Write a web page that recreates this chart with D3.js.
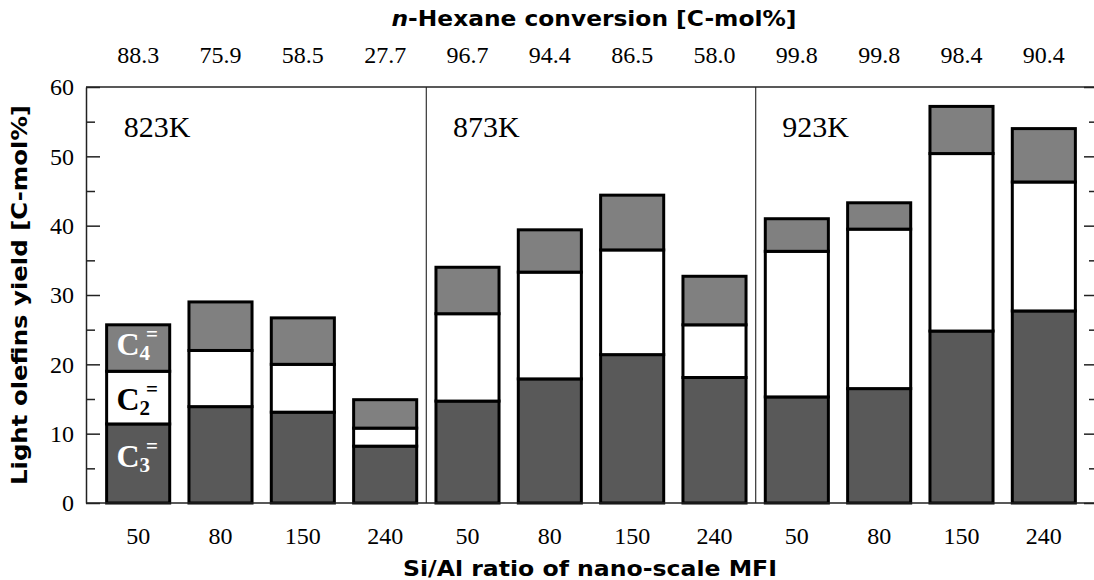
<!DOCTYPE html>
<html><head><meta charset="utf-8">
<script src="https://cdn.jsdelivr.net/npm/d3@7"></script>
<style>
html,body{margin:0;padding:0;background:#fff;}
svg{display:block;}
.serif{font-family:'Liberation Serif','Times New Roman',serif !important;}
.heavy{font-family:'DejaVu Sans',Arial,sans-serif;font-weight:bold;}
</style></head>
<body>
<svg id="chart" width="1094" height="580"></svg>
<script>
// ---- data ----
const categories = ["50","80","150","240","50","80","150","240","50","80","150","240"];
const temperatures = ["823K","873K","923K"];
const conversion = ["88.3","75.9","58.5","27.7","96.7","94.4","86.5","58.0","99.8","99.8","98.4","90.4"];
const c3 = [11.4,13.9,13.1,8.2,14.7,17.9,21.4,18.1,15.3,16.5,24.8,27.7];
const c2 = [7.6,8.1,6.9,2.6,12.6,15.4,15.1,7.6,21.0,23.0,25.6,18.6];
const c4 = [6.7,7.0,6.7,4.1,6.7,6.1,7.9,7.0,4.7,3.8,6.8,7.7];
const yTicks = [0,10,20,30,40,50,60];
const yMinorTicks = [5,15,25,35,45,55];

const rows = categories.map((c,i)=>({i, c3:c3[i], c2:c2[i], c4:c4[i]}));
const keys = ["c3","c2","c4"];
const fills = {c3:"#595959", c2:"#ffffff", c4:"#808080"};

const svg = d3.select("#chart");
const L = 86, R = 1098, T = 87, B = 503;
const x = d3.scaleBand().domain(d3.range(categories.length)).range([97,1085]).paddingInner(0.234).paddingOuter(0.117);
const y = d3.scaleLinear().domain([0,60]).range([B,T]);

// group separators
[4,8].forEach(k=>{
  const sx = (x(k-1)+x.bandwidth() + x(k))/2;
  svg.append("line").attr("x1",sx).attr("x2",sx).attr("y1",T).attr("y2",B)
    .attr("stroke","#444").attr("stroke-width",1.3);
});

// frame top
svg.append("line").attr("x1",L).attr("x2",R).attr("y1",T).attr("y2",T).attr("stroke","#222").attr("stroke-width",1.5);

// bars
const stacked = d3.stack().keys(keys)(rows);
svg.append("g").selectAll("g").data(stacked).join("g")
  .attr("fill",d=>fills[d.key])
  .selectAll("rect").data(d=>d).join("rect")
  .attr("x",d=>x(d.data.i)).attr("width",x.bandwidth())
  .attr("y",d=>y(d[1])).attr("height",d=>y(d[0])-y(d[1]))
  .attr("stroke","#000").attr("stroke-width",3);

function styleText(g, size){
  g.attr("font-family",null);
  g.selectAll("text").attr("class","serif").style("font-size",size+"px").attr("fill","#000");
}

// left axis
const gL = svg.append("g").attr("transform",`translate(${L},0)`)
  .call(d3.axisLeft(y).tickValues(yTicks).tickSizeInner(-14).tickSizeOuter(0).tickPadding(12).tickFormat(d3.format("d")));
gL.select(".domain").attr("stroke","#222").attr("stroke-width",1.5);
gL.selectAll(".tick line").attr("stroke","#222").attr("stroke-width",1.5);
styleText(gL, 24);
const gLm = svg.append("g").attr("transform",`translate(${L},0)`)
  .call(d3.axisLeft(y).tickValues(yMinorTicks).tickSizeInner(-9).tickSizeOuter(0).tickFormat(""));
gLm.select(".domain").remove();
gLm.selectAll(".tick line").attr("stroke","#222").attr("stroke-width",1.5);

// right axis (inward ticks)
const gR = svg.append("g").attr("transform",`translate(${R},0)`)
  .call(d3.axisRight(y).tickValues(yTicks).tickSizeInner(-14).tickSizeOuter(0).tickFormat(""));
gR.selectAll(".tick line").attr("stroke","#222").attr("stroke-width",1.5);
const gRm = svg.append("g").attr("transform",`translate(${R},0)`)
  .call(d3.axisRight(y).tickValues(yMinorTicks).tickSizeInner(-9).tickSizeOuter(0).tickFormat(""));
gRm.select(".domain").remove();
gRm.selectAll(".tick line").attr("stroke","#222").attr("stroke-width",1.5);

// bottom axis
svg.append("line").attr("x1",L).attr("x2",R).attr("y1",B).attr("y2",B).attr("stroke","#222").attr("stroke-width",1.5);
const gB = svg.append("g").attr("transform",`translate(0,${B})`)
  .call(d3.axisBottom(x).tickSize(0).tickPadding(24).tickFormat(i=>categories[i]));
gB.select(".domain").remove();
styleText(gB, 24);

// top axis (conversion)
const gT = svg.append("g").attr("transform",`translate(0,${T})`)
  .call(d3.axisTop(x).tickSize(0).tickPadding(24).tickFormat(i=>conversion[i]));
gT.select(".domain").remove();
styleText(gT, 24);

// temperature labels
temperatures.forEach((t,k)=>{
  svg.append("text").attr("x",x(k*4)+17).attr("y",137).attr("class","serif")
    .style("font-size","30px").attr("fill","#000").text(t);
});

// legend labels in first bar
const bx = x(0)+x.bandwidth()/2 - 1;
const leg = [
  {key:"c4", sub:"4", fill:"#fff", dy:7},
  {key:"c2", sub:"2", fill:"#000", dy:12},
  {key:"c3", sub:"3", fill:"#fff", dy:4}
];
leg.forEach(l=>{
  const s = stacked.find(d=>d.key===l.key)[0];
  const cy = (y(s[0])+y(s[1]))/2;
  const t = svg.append("text").attr("x",bx).attr("y",cy+l.dy).attr("text-anchor","middle")
    .attr("class","serif").attr("font-weight","bold").style("font-size","32px").attr("fill",l.fill);
  t.append("tspan").text("C");
  t.append("tspan").style("font-size","21px").attr("dy",5).text(l.sub);
  t.append("tspan").style("font-size","21px").attr("dy",-19).attr("dx",-4).text("=");
});

// titles
const tt = svg.append("text").attr("x",594).attr("y",26).attr("text-anchor","middle")
  .attr("class","heavy").style("font-size","22px").attr("fill","#000")
  .attr("textLength",405).attr("lengthAdjust","spacingAndGlyphs");
tt.append("tspan").attr("font-style","italic").text("n");
tt.append("tspan").text("-Hexane conversion [C-mol%]");

svg.append("text").attr("x",590).attr("y",576).attr("text-anchor","middle")
  .attr("class","heavy").style("font-size","22px").attr("fill","#000")
  .attr("textLength",374).attr("lengthAdjust","spacingAndGlyphs")
  .text("Si/Al ratio of nano-scale MFI");

svg.append("text").attr("transform",`translate(27,${(T+B)/2}) rotate(-90)`).attr("text-anchor","middle")
  .attr("class","heavy").style("font-size","22px").attr("fill","#000")
  .attr("textLength",380).attr("lengthAdjust","spacingAndGlyphs")
  .text("Light olefins yield [C-mol%]");
</script>
</body></html>
